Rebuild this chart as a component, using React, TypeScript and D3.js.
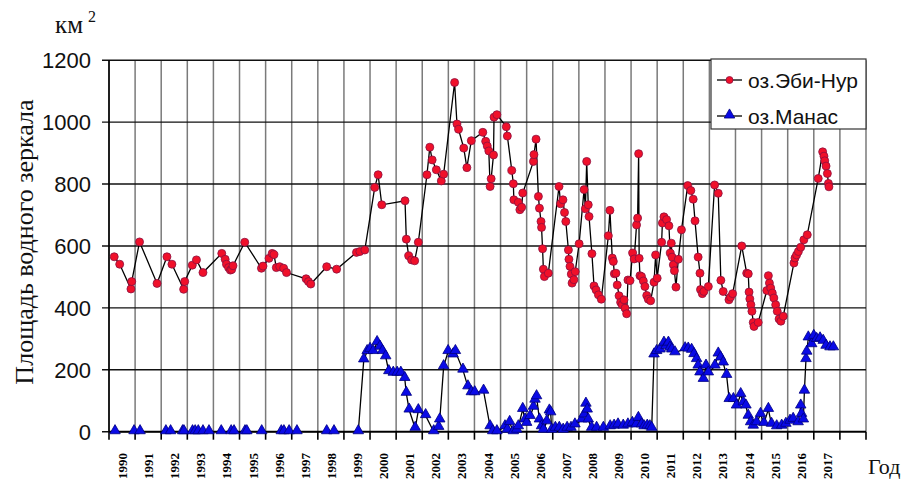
import React from 'react';
import * as d3 from 'd3';

// Площадь водного зеркала, км² — [год (дробный), площадь]
const ebiNur: [number, number][] = [
  [1990.2, 565], [1990.41, 541], [1990.84, 461], [1990.87, 485], [1991.17, 613],
  [1991.84, 479], [1992.22, 565], [1992.41, 541], [1992.86, 460], [1992.9, 485],
  [1993.19, 538], [1993.35, 555], [1993.6, 514], [1994.32, 576], [1994.45, 557],
  [1994.5, 541], [1994.58, 530], [1994.65, 522], [1994.7, 524], [1994.75, 536],
  [1995.2, 612], [1995.84, 528], [1995.9, 535], [1996.13, 560], [1996.25, 576],
  [1996.32, 572], [1996.41, 530], [1996.54, 533], [1996.69, 528], [1996.8, 514],
  [1997.55, 494], [1997.64, 485], [1997.73, 477], [1998.34, 533], [1998.72, 525],
  [1999.48, 579], [1999.61, 582], [1999.8, 587], [2000.18, 789], [2000.31, 830],
  [2000.45, 733], [2001.34, 746], [2001.39, 622], [2001.48, 568], [2001.59, 555],
  [2001.71, 552], [2001.85, 612], [2002.18, 830], [2002.29, 919], [2002.38, 878],
  [2002.54, 846], [2002.73, 810], [2002.82, 832], [2003.24, 1128], [2003.33, 994],
  [2003.39, 977], [2003.59, 916], [2003.71, 853], [2003.88, 940], [2004.32, 967],
  [2004.43, 938], [2004.49, 923], [2004.55, 907], [2004.6, 792], [2004.64, 817],
  [2004.73, 894], [2004.75, 1016], [2004.86, 1024], [2005.22, 985], [2005.26, 955],
  [2005.43, 844], [2005.49, 801], [2005.51, 749], [2005.68, 741], [2005.74, 717],
  [2005.81, 725], [2005.85, 771], [2006.26, 873], [2006.28, 895], [2006.36, 945],
  [2006.45, 760], [2006.49, 722], [2006.55, 679], [2006.57, 660], [2006.61, 591],
  [2006.64, 525], [2006.68, 501], [2006.83, 512], [2007.24, 792], [2007.3, 736],
  [2007.39, 749], [2007.45, 708], [2007.5, 679], [2007.6, 587], [2007.62, 557],
  [2007.66, 534], [2007.71, 509], [2007.74, 480], [2007.81, 491], [2007.86, 517],
  [2008.01, 607], [2008.2, 782], [2008.25, 720], [2008.3, 873], [2008.36, 733],
  [2008.39, 695], [2008.5, 575], [2008.58, 471], [2008.66, 458], [2008.75, 442],
  [2008.86, 428], [2009.13, 633], [2009.19, 715], [2009.28, 561], [2009.32, 550],
  [2009.36, 510], [2009.42, 512], [2009.47, 474], [2009.54, 439], [2009.6, 418],
  [2009.66, 410], [2009.73, 426], [2009.77, 399], [2009.83, 381], [2009.88, 490],
  [2009.96, 488], [2010.06, 577], [2010.12, 558], [2010.21, 668], [2010.25, 690],
  [2010.29, 898], [2010.31, 560], [2010.34, 504], [2010.4, 501], [2010.47, 487],
  [2010.53, 469], [2010.6, 440], [2010.66, 428], [2010.75, 423], [2010.88, 483],
  [2010.94, 571], [2011.0, 496], [2011.17, 612], [2011.2, 674], [2011.26, 694],
  [2011.36, 685], [2011.45, 665], [2011.5, 577], [2011.54, 609], [2011.57, 564],
  [2011.62, 539], [2011.66, 520], [2011.72, 467], [2011.81, 557], [2011.93, 652],
  [2012.17, 795], [2012.29, 779], [2012.38, 751], [2012.45, 681], [2012.57, 564],
  [2012.64, 512], [2012.66, 459], [2012.73, 446], [2012.79, 453], [2012.96, 469],
  [2013.2, 797], [2013.34, 770], [2013.44, 489], [2013.53, 453], [2013.75, 426],
  [2013.81, 435], [2013.89, 446], [2014.24, 600], [2014.43, 512], [2014.49, 510],
  [2014.52, 451], [2014.55, 429], [2014.59, 410], [2014.63, 389], [2014.68, 353],
  [2014.71, 340], [2014.87, 353], [2015.2, 456], [2015.26, 504], [2015.3, 480],
  [2015.35, 464], [2015.41, 448], [2015.47, 432], [2015.54, 410], [2015.6, 389],
  [2015.67, 364], [2015.74, 357], [2015.83, 373], [2016.24, 545], [2016.28, 561],
  [2016.34, 571], [2016.41, 582], [2016.5, 596], [2016.62, 620], [2016.75, 636],
  [2017.17, 818], [2017.34, 904], [2017.39, 890], [2017.42, 875], [2017.47, 858],
  [2017.52, 834], [2017.56, 802], [2017.58, 791],
];

const manas: [number, number][] = [
  [1990.23, 0], [1990.96, 0], [1991.19, 0], [1992.18, 0], [1992.36, 0], [1992.82, 0],
  [1992.87, 0], [1993.2, 0], [1993.3, 0], [1993.42, 0], [1993.6, 0], [1993.83, 0],
  [1994.3, 0], [1994.68, 0], [1994.79, 0], [1995.21, 0], [1995.28, 0], [1995.85, 0],
  [1996.6, 0], [1996.7, 0], [1996.9, 0], [1997.2, 0], [1998.34, 0], [1998.62, 0],
  [1999.55, 0], [1999.76, 232], [1999.89, 259], [2000.0, 266], [2000.12, 259],
  [2000.27, 288], [2000.38, 273], [2000.48, 259], [2000.6, 242], [2000.72, 194],
  [2000.89, 189], [2001.04, 189], [2001.18, 189], [2001.33, 172], [2001.39, 124],
  [2001.5, 70], [2001.73, 11], [2001.85, 68], [2002.13, 52], [2002.44, 0],
  [2002.63, 14], [2002.67, 38], [2002.82, 210], [2002.99, 259], [2003.18, 248],
  [2003.27, 259], [2003.56, 199], [2003.75, 145], [2003.88, 126], [2004.01, 126],
  [2004.35, 131], [2004.6, 16], [2004.7, 0], [2004.86, 0], [2005.17, 16],
  [2005.26, 5], [2005.35, 30], [2005.49, 0], [2005.62, 5], [2005.68, 16],
  [2005.85, 72], [2005.94, 38], [2006.0, 27], [2006.13, 49], [2006.26, 79],
  [2006.32, 102], [2006.38, 113], [2006.49, 38], [2006.57, 16], [2006.64, 5],
  [2006.77, 32], [2006.87, 67], [2006.92, 61], [2006.96, 5], [2007.1, 11],
  [2007.25, 11], [2007.4, 5], [2007.55, 11], [2007.7, 11], [2007.85, 22],
  [2008.11, 38], [2008.2, 54], [2008.27, 89], [2008.32, 70], [2008.36, 38],
  [2008.49, 11], [2008.68, 11], [2008.94, 11], [2009.2, 16], [2009.35, 18],
  [2009.5, 22], [2009.7, 18], [2009.88, 22], [2010.05, 27], [2010.2, 22],
  [2010.28, 43], [2010.4, 22], [2010.5, 16], [2010.62, 18], [2010.72, 16],
  [2010.79, 11], [2010.88, 248], [2010.98, 259], [2011.11, 264], [2011.26, 286],
  [2011.34, 275], [2011.43, 286], [2011.49, 270], [2011.56, 264], [2011.68, 255],
  [2012.07, 268], [2012.19, 267], [2012.32, 263], [2012.41, 249], [2012.51, 233],
  [2012.57, 212], [2012.64, 190], [2012.77, 169], [2012.87, 212], [2012.96, 190],
  [2013.21, 212], [2013.34, 251], [2013.43, 238], [2013.53, 222], [2013.66, 182],
  [2013.76, 104], [2013.92, 104], [2014.04, 83], [2014.2, 120], [2014.3, 93],
  [2014.4, 83], [2014.49, 50], [2014.58, 29], [2014.68, 18], [2014.81, 29],
  [2014.96, 56], [2015.09, 27], [2015.26, 72], [2015.38, 24], [2015.58, 16],
  [2015.77, 18], [2015.93, 24], [2016.09, 34], [2016.21, 40], [2016.4, 29],
  [2016.5, 83], [2016.53, 56], [2016.6, 38], [2016.64, 131], [2016.7, 233],
  [2016.73, 257], [2016.79, 303], [2016.92, 281], [2017.0, 308], [2017.11, 298],
  [2017.24, 300], [2017.36, 292], [2017.47, 276], [2017.62, 271], [2017.75, 271],
];

const yearLabels = d3.range(1990, 2018).map(String);
const yTicks = [0, 200, 400, 600, 800, 1000, 1200];
const seriesNames = ['оз.Эби-Нур', 'оз.Манас'];

const W = 903;
const H = 481;
const left = 109, right = 866, top = 60.2, bottom = 431.7;

export default function App() {
  const x = d3.scaleLinear().domain([1990, 2019]).range([left, right]);
  const y = d3.scaleLinear().domain([0, 1200]).range([bottom, top]);
  const line = d3.line<[number, number]>().x(d => x(d[0])).y(d => y(d[1]));
  const tri = d3.symbol().type(d3.symbolTriangle).size(48)() as string;
  const yearLines = d3.range(1990, 2020);
  const sans = '"Liberation Sans", Arial, sans-serif';
  const serif = '"Liberation Serif", "Times New Roman", serif';

  return (
    <svg width={W} height={H} style={{ position: 'absolute', left: 0, top: 0, background: '#fff' }}>
      {/* vertical grid */}
      {yearLines.map(v => (
        <line key={'v' + v} x1={x(v)} x2={x(v)} y1={top} y2={bottom} stroke="#7a7a7a" strokeWidth={1.5} />
      ))}
      {/* horizontal grid */}
      {yTicks.map(t => (
        <line key={'h' + t} x1={left - 7} x2={right} y1={y(t)} y2={y(t)} stroke="#111" strokeWidth={1.4} />
      ))}
      {/* axes */}
      <line x1={left} x2={left} y1={top} y2={bottom} stroke="#000" strokeWidth={1.6} />
      <line x1={left} x2={right} y1={bottom} y2={bottom} stroke="#000" strokeWidth={1.8} />
      {yearLines.map(v => (
        <line key={'t' + v} x1={x(v)} x2={x(v)} y1={bottom} y2={bottom + 8} stroke="#000" strokeWidth={1.6} />
      ))}
      {yTicks.map(t => (
        <text key={'yl' + t} x={91} y={y(t)} dy="0.36em" textAnchor="end" fontFamily={sans} fontSize={22} fill="#111">
          {t}
        </text>
      ))}
      {yearLabels.map((lab, i) => {
        const cx = x(1990 + i + 0.5) + 5;
        return (
          <text key={'xl' + lab} transform={`translate(${cx},453) rotate(-90)`} textAnchor="end"
            fontFamily={serif} fontWeight="bold" fontSize={13} fill="#000">
            {lab}
          </text>
        );
      })}
      {/* titles */}
      <text x={55} y={33} fontFamily={serif} fontSize={25} fill="#111">км</text>
      <text x={88} y={22} fontFamily={serif} fontSize={16} fill="#111">2</text>
      <text x={868} y={474} fontFamily={serif} fontSize={22} fill="#111">Год</text>
      <text transform={`translate(33,242) rotate(-90)`} textAnchor="middle" fontFamily={serif} fontSize={26} fill="#111">
        Площадь водного зеркала
      </text>

      {/* series */}
      <path d={line(manas) || ''} fill="none" stroke="#000" strokeWidth={1.3} />
      <path d={line(ebiNur) || ''} fill="none" stroke="#000" strokeWidth={1.3} />
      {manas.map((d, i) => (
        <path key={'m' + i} d={tri} transform={`translate(${x(d[0])},${y(d[1]) - 1})`} fill="#0a0ae6" stroke="#000080" strokeWidth={0.8} />
      ))}
      {ebiNur.map((d, i) => (
        <circle key={'e' + i} cx={x(d[0])} cy={y(d[1])} r={4} fill="#f0102a" stroke="#8a1040" strokeWidth={0.8} />
      ))}

      {/* legend */}
      <rect x={711} y={59} width={155} height={70} fill="#fff" stroke="#333" strokeWidth={1.2} />
      <line x1={717} x2={742} y1={80} y2={80} stroke="#000" strokeWidth={1.3} />
      <circle cx={729.5} cy={80} r={3.5} fill="#f0102a" stroke="#8a1040" strokeWidth={0.8} />
      <text x={748} y={80} dy="0.36em" fontFamily={sans} fontSize={21} fill="#111">{seriesNames[0]}</text>
      <line x1={717} x2={742} y1={116} y2={116} stroke="#000" strokeWidth={1.3} />
      <path d={tri} transform="translate(729.5,115)" fill="#0a0ae6" stroke="#000080" strokeWidth={0.8} />
      <text x={748} y={116} dy="0.36em" fontFamily={sans} fontSize={21} fill="#111">{seriesNames[1]}</text>
    </svg>
  );
}
